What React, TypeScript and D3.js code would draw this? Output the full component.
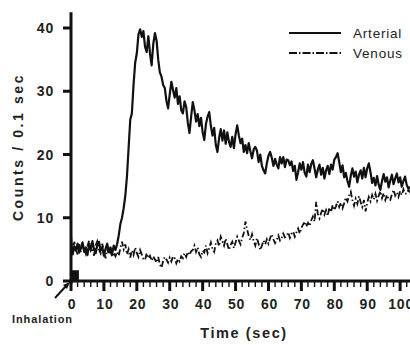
import * as d3 from "d3";

const width = 410;
const height = 345;

// sampling step of both traces (sec)
const step = 0.5;

// arterial counts / 0.1 sec, one value every 0.5 sec from t = 0
const arterial = [
  6.5, 4.2, 5.5, 4.8, 5.9, 4.5, 5.2, 6.1, 4.6, 5.3, 4.1, 5.8, 4.9, 6.3, 5.0, 4.4, 5.7, 6.2, 4.8, 5.4,
  4.0, 5.1, 5.9, 4.6, 5.3, 4.3, 5.6, 4.9, 5.8, 7.2, 9.0, 10.0, 11.5, 13.5, 16.5, 21.0, 25.5, 26.5, 31.0, 34.5,
  36.0, 39.0, 39.8, 38.6, 39.5, 37.0, 36.2, 38.7, 36.0, 34.1, 37.5, 39.2, 38.0, 35.0, 33.0, 32.3, 31.0, 30.5, 28.5, 27.3,
  29.5, 31.5, 30.2, 29.0, 30.5, 28.0, 29.2, 27.0, 26.5, 28.4, 27.5, 25.0, 23.4, 26.0, 28.3, 27.0, 25.2, 26.4, 24.5, 25.8,
  23.5, 22.3, 24.8, 26.0, 26.7, 24.5, 23.0, 24.2, 21.5, 20.4, 22.6, 24.0, 22.2, 23.8, 21.7, 23.5, 22.0, 21.2, 22.8, 21.0,
  23.2, 24.6, 23.0, 21.8, 22.5, 20.4, 21.5, 20.2, 21.8, 20.5, 19.4, 20.8, 21.2, 20.6, 18.8, 20.0, 18.2, 17.5, 17.0, 18.6,
  19.8, 20.4, 19.5, 18.2, 19.3, 18.4, 17.8, 19.6, 18.6, 19.6, 18.0, 19.2, 19.1, 18.3, 18.9, 17.4, 18.2, 16.0, 17.2, 18.6,
  17.6, 18.8, 17.1, 16.5, 18.4, 17.2, 18.5, 19.1, 17.8, 16.4, 17.6, 18.4, 16.8, 17.9, 16.2, 17.5, 18.2, 16.9, 18.4, 17.6,
  19.2, 19.6, 20.2, 18.8, 17.2, 18.3, 16.4, 17.1, 15.8, 14.9, 16.6, 17.8, 16.5, 17.3, 15.6, 16.8, 17.5, 16.2, 17.9, 16.4,
  17.8, 18.6, 17.2, 15.5, 16.3, 15.1, 16.6, 15.2, 14.4, 15.8, 16.9, 15.7, 16.4, 14.8, 15.9, 16.8, 15.3, 16.2, 17.0, 15.6,
  16.4, 14.9, 15.8, 16.5, 15.2, 14.6, 14.9,
];

// venous counts / 0.1 sec, same sampling
const venous = [
  7.3, 4.5, 6.2, 5.0, 4.2, 5.8, 4.6, 6.0, 5.1, 4.3, 5.5, 6.4, 4.8, 5.2, 4.0, 5.7, 6.3, 5.0, 4.4, 5.9,
  4.7, 3.6, 5.1, 4.2, 4.9, 3.8, 4.5, 3.9, 4.6, 4.0, 5.2, 6.2, 5.0, 5.8, 4.2, 5.0, 3.7, 4.8, 4.1, 5.3,
  4.4, 3.8, 4.9, 4.2, 3.5, 3.3, 4.4, 3.6, 4.0, 3.2, 3.9, 3.4, 2.9, 3.8, 2.6, 2.1, 3.2, 3.8, 3.4, 2.9,
  3.7, 3.1, 3.9, 3.6, 2.8, 3.5, 3.1, 3.9, 3.6, 4.4, 3.8, 4.6, 4.1, 4.7, 4.9, 5.6, 4.6, 5.3, 4.2, 3.8,
  4.8, 4.5, 5.6, 4.4, 5.2, 6.1, 5.0, 4.6, 5.9, 6.4, 5.5, 7.0, 6.3, 5.6, 6.7, 5.8, 4.9, 5.7, 6.2, 5.2,
  6.1, 7.0, 6.4, 5.8, 6.8, 7.6, 9.4, 8.2, 7.1, 6.5, 7.4, 6.3, 5.6, 6.8, 5.9, 4.9, 5.6, 6.4, 5.8, 6.6,
  5.9, 6.8, 7.4, 6.6, 6.0, 6.5, 7.2, 6.4, 6.8, 7.5, 6.9, 7.1, 7.7, 6.8, 7.5, 7.8, 7.0, 7.7, 8.3, 7.5,
  8.4, 8.9, 9.4, 8.6, 9.2, 8.7, 9.6, 10.2, 9.4, 12.5, 10.6, 9.9, 10.8, 11.4, 10.5, 11.2, 10.3, 11.6, 10.9, 12.0,
  11.2, 11.8, 12.6, 11.7, 12.4, 11.5, 12.3, 13.2, 12.6, 13.5, 14.1, 12.8, 11.9, 13.0, 12.2, 13.4, 12.5, 11.7, 12.8, 11.0,
  12.4, 13.3, 12.6, 13.6, 12.9, 13.8, 12.7, 13.5, 14.2, 13.1, 13.9, 12.8, 13.6, 12.9, 12.8, 13.7, 14.4, 13.5, 14.0, 13.3,
  14.2, 13.6, 14.5, 13.8, 13.8, 14.4, 14.0,
];

const xMajor = [0, 10, 20, 30, 40, 50, 60, 70, 80, 90, 100];
const xMinorStep = 2;
const yTicks = [0, 10, 20, 30, 40];

// inhalation pulse shown at the origin
const inhalation = { start: 0, end: 2.4, level: 1.7 };

const legendItems = [
  { name: "Arterial", dash: "none" },
  { name: "Venous", dash: "8,2,1.5,2" },
];

const font = "'Liberation Sans', Arial, sans-serif";
const ink = "#111";

export default function App() {
  const x = d3.scaleLinear().domain([0, 103]).range([71, 410]);
  const y = d3.scaleLinear().domain([0, 40]).range([281, 28]);

  const line = d3
    .line<number>()
    .x((_, i) => x(i * step))
    .y((d) => y(d));

  const minor = d3.range(0, 103, xMinorStep).filter((t) => t % 10 !== 0);

  const x0 = x(0);
  const y0 = y(0);

  return (
    <svg
      width={width}
      height={height}
      style={{ position: "absolute", left: 0, top: 0, background: "#fff" }}
      fontFamily={font}
    >
      {/* traces */}
      <path d={line(venous) ?? ""} fill="none" stroke={ink} strokeWidth={1.8} strokeDasharray="6,2.5,1.5,2.5" />
      <path d={line(arterial) ?? ""} fill="none" stroke={ink} strokeWidth={2.2} strokeLinejoin="round" />

      {/* inhalation block */}
      <rect
        x={x(inhalation.start)}
        y={y(inhalation.level)}
        width={x(inhalation.end) - x(inhalation.start)}
        height={y(0) - y(inhalation.level)}
        fill={ink}
      />

      {/* y axis */}
      <line x1={x0} x2={x0} y1={y(42.5)} y2={y0 + 3} stroke={ink} strokeWidth={3} />
      {yTicks.map((t) => (
        <g key={t}>
          <line x1={x0 - 8} x2={x0} y1={y(t)} y2={y(t)} stroke={ink} strokeWidth={3} />
          <text
            x={54}
            y={y(t)}
            dy="0.36em"
            textAnchor="end"
            fontSize={14}
            fontWeight="bold"
            letterSpacing={0.8}
            fill="#222"
          >
            {t}
          </text>
        </g>
      ))}

      {/* x axis */}
      <line x1={x0 - 1.5} x2={width} y1={y0} y2={y0} stroke={ink} strokeWidth={3} />
      {minor.map((t) => (
        <line key={t} x1={x(t)} x2={x(t)} y1={y0} y2={y0 + 6} stroke={ink} strokeWidth={1.4} />
      ))}
      {xMajor.map((t) => (
        <g key={t}>
          <line x1={x(t)} x2={x(t)} y1={y0} y2={y0 + 10} stroke={ink} strokeWidth={3} />
          <text
            x={x(t) + 1}
            y={309}
            textAnchor="middle"
            fontSize={14}
            fontWeight="bold"
            letterSpacing={0.8}
            fill="#222"
          >
            {t}
          </text>
        </g>
      ))}

      {/* inhalation arrow */}
      <line x1={x0 - 16} y1={y0 + 17} x2={x0 - 5} y2={y0 + 5} stroke={ink} strokeWidth={2} />
      <path
        d={`M${x0 - 1},${y0 + 1} L${x0 - 8},${y0 + 4} L${x0 - 4},${y0 + 8} Z`}
        fill={ink}
      />
      <text x={12} y={323} fontSize={11} fontWeight="bold" fill="#222" letterSpacing={0.9}>
        Inhalation
      </text>

      {/* axis titles */}
      <text
        x={244}
        y={338}
        textAnchor="middle"
        fontSize={14.5}
        fontWeight="bold"
        letterSpacing={1.6}
        fill="#222"
      >
        Time (sec)
      </text>
      <text
        transform={`translate(23, 147) rotate(-90)`}
        textAnchor="middle"
        fontSize={14}
        fontWeight="bold"
        letterSpacing={2.6}
        fill="#222"
      >
        Counts / 0.1 sec
      </text>

      {/* legend */}
      {legendItems.map((d, i) => (
        <g key={d.name} transform={`translate(289, ${33 + i * 20})`}>
          <line x1={0} x2={52} y1={0} y2={0} stroke={ink} strokeWidth={2} strokeDasharray={d.dash} />
          <text x={64} y={0} dy="0.36em" fontSize={13.5} letterSpacing={0.8} fill="#222">
            {d.name}
          </text>
        </g>
      ))}
    </svg>
  );
}
